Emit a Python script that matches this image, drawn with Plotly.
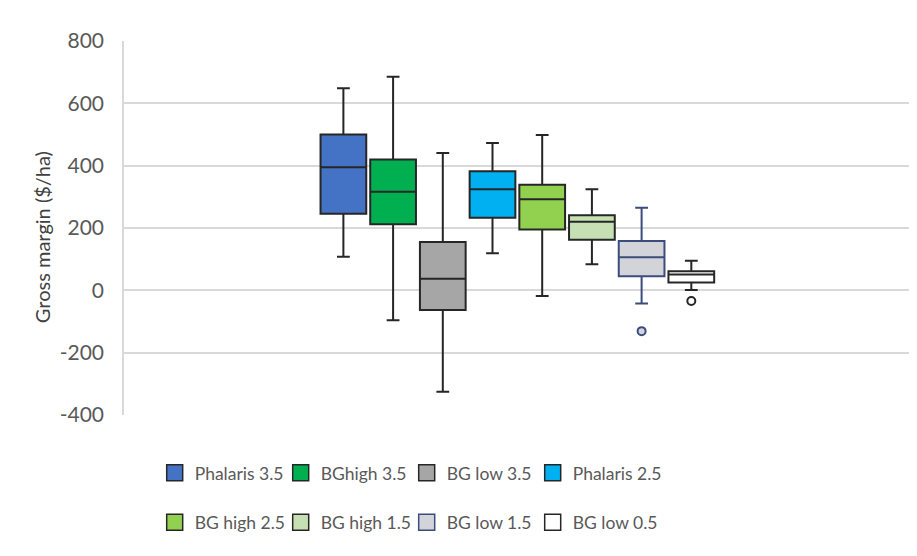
import plotly.graph_objects as go

# ---- data ----
groups = ["Phalaris 3.5", "BGhigh 3.5", "BG low 3.5", "Phalaris 2.5",
          "BG high 2.5", "BG high 1.5", "BG low 1.5", "BG low 0.5"]
upper_whisker = [648, 685, 441, 473, 498, 324, 265, 95]
q3_values = [500, 420, 155, 382, 339, 241, 158, 61]
medians = [395, 316, 37, 324, 292, 220, 106, 51]
q1_values = [246, 212, -63, 233, 195, 162, 45, 25]
lower_whisker = [108, -96, -325, 119, -18, 84, -42, 1]
outlier_groups = ["BG low 1.5", "BG low 0.5"]
outlier_values = [-131, -34]

y_ticks = [-400, -200, 0, 200, 400, 600, 800]
y_tick_labels = ["-400", "-200", "0", "200", "400", "600", "800"]

fills = ["#4472C4", "#00B050", "#A6A6A6", "#00B0F0",
         "#92D050", "#C6E0B4", "#D3D3DA", "#FFFFFF"]
lines = ["#262626"] * 6 + ["#3C4C7C", "#262626"]

FONT = "Lato"

fig = go.Figure()

for i, g in enumerate(groups):
    fig.add_trace(go.Box(
        x=[g], q1=[q1_values[i]], median=[medians[i]], q3=[q3_values[i]],
        lowerfence=[lower_whisker[i]], upperfence=[upper_whisker[i]],
        name=g, showlegend=False,
        fillcolor=fills[i], line=dict(color=lines[i], width=2),
        width=0.92, whiskerwidth=0.28, boxpoints=False, hoverinfo="skip",
    ))

for g, v in zip(outlier_groups, outlier_values):
    i = groups.index(g)
    fig.add_trace(go.Scatter(
        x=[g], y=[v], mode="markers", showlegend=False,
        marker=dict(symbol="circle", size=8,
                    color=fills[i] if g == "BG low 1.5" else "#FFFFFF",
                    line=dict(color=lines[i], width=2)),
        hoverinfo="skip",
    ))

# legend entries (square swatches)
for i, g in enumerate(groups):
    fig.add_trace(go.Scatter(
        x=[None], y=[None], mode="markers", name=g,
        marker=dict(symbol="square", size=16, color=fills[i],
                    line=dict(color=lines[i], width=1.5)),
        legend="legend" if i < 4 else "legend2",
    ))
# invisible spacer entries so the last label of each row is not clipped
for lg in ["legend", "legend2"]:
    fig.add_trace(go.Scatter(
        x=[None], y=[None], mode="markers", name=" ",
        marker=dict(symbol="square", size=1, color="rgba(0,0,0,0)",
                    line=dict(width=0)),
        legend=lg, hoverinfo="skip",
    ))

legend_common = dict(orientation="h", xanchor="left", yanchor="middle",
                     entrywidth=81, entrywidthmode="pixels",
                     font=dict(family=FONT, size=17.5, color="#595959"),
                     bgcolor="rgba(0,0,0,0)", borderwidth=0,
                     itemclick=False, itemdoubleclick=False)

# the page body has an 8px default margin, so the figure is 8px smaller
fig.update_layout(
    width=909, height=548,
    margin=dict(l=116, r=6, t=33, b=141, autoexpand=False),
    paper_bgcolor="#FFFFFF", plot_bgcolor="#FFFFFF",
    font=dict(family=FONT),
    showlegend=True,
    legend=dict(x=0.039, y=-0.155, **legend_common),
    legend2=dict(x=0.039, y=-0.287, **legend_common),
    xaxis=dict(type="category", categoryorder="array", categoryarray=groups,
               range=[-4.414, 11.42], showticklabels=False, showgrid=False,
               zeroline=False, showline=False, ticks=""),
    yaxis=dict(range=[-400, 800], tickvals=y_ticks, ticktext=y_tick_labels,
               showgrid=True, gridcolor="#D9D9D9", gridwidth=1.5,
               zeroline=False, showline=True, linecolor="#D9D9D9",
               linewidth=1.5, ticks="", ticklabelstandoff=14,
               tickfont=dict(family=FONT, size=21, color="#595959")),
    annotations=[dict(text="Gross margin ($/ha)", textangle=-90,
                      xref="paper", yref="paper", x=-0.104, y=0.476,
                      xanchor="center", yanchor="middle", showarrow=False,
                      font=dict(family=FONT, size=20, color="#404040"))],
    shapes=[dict(type="line", xref="paper", yref="paper",
                 x0=-0.1487, x1=-0.1487, y0=-0.38, y1=1.11,
                 line=dict(color="#D9D9D9", width=2))],
)

fig.write_html("out.html")
